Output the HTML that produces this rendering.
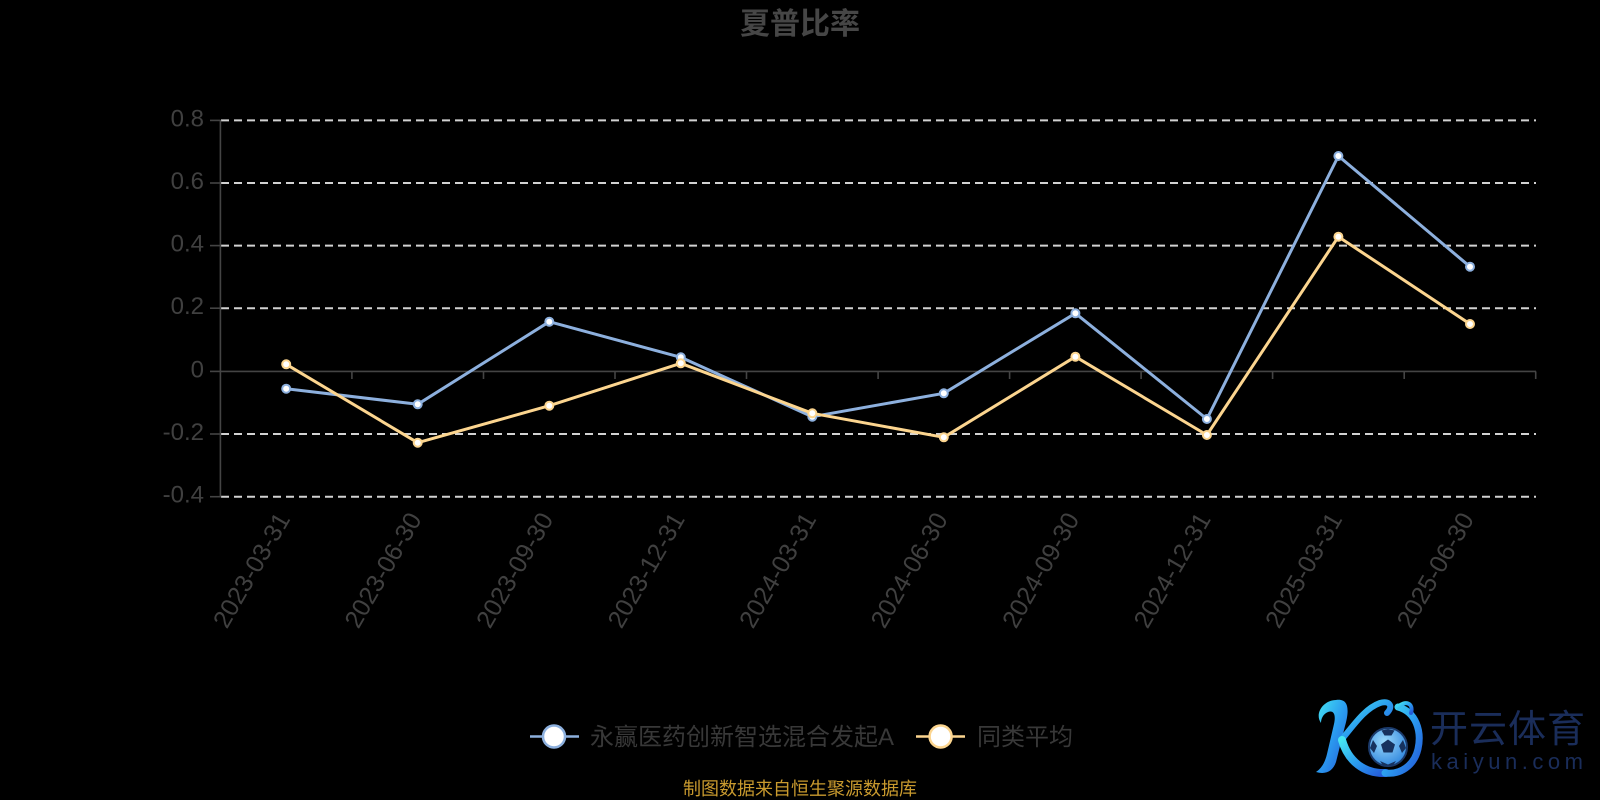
<!DOCTYPE html>
<html><head><meta charset="utf-8"><style>
html,body{margin:0;padding:0;background:#000;width:1600px;height:800px;overflow:hidden}
svg{display:block}
</style></head><body>
<svg width="1600" height="800" viewBox="0 0 1600 800" xmlns="http://www.w3.org/2000/svg">
<defs>
<linearGradient id="kg" x1="0" y1="0" x2="1" y2="1">
<stop offset="0" stop-color="#46e6f2"/>
<stop offset="0.5" stop-color="#2b9df0"/>
<stop offset="1" stop-color="#2459d8"/>
</linearGradient>
<radialGradient id="bg" cx="0.4" cy="0.35" r="0.7">
<stop offset="0" stop-color="#9ad8fb"/>
<stop offset="1" stop-color="#2f86dd"/>
</radialGradient>
</defs>
<rect width="1600" height="800" fill="#000"/>

<!-- title -->
<text x="800" y="34" text-anchor="middle" font-family="Liberation Sans, Noto Sans CJK SC, sans-serif" font-weight="bold" font-size="30" fill="#464646">夏普比率</text>

<!-- grid -->
<g stroke="#d2d2d2" stroke-width="2" stroke-dasharray="8,5" fill="none">
<line x1="221" y1="120.4" x2="1536" y2="120.4"/>
<line x1="221" y1="183" x2="1536" y2="183"/>
<line x1="221" y1="245.6" x2="1536" y2="245.6"/>
<line x1="221" y1="308.2" x2="1536" y2="308.2"/>
<line x1="221" y1="434" x2="1536" y2="434"/>
<line x1="221" y1="496.7" x2="1536" y2="496.7"/>
</g>

<!-- axes -->
<g stroke="#444" stroke-width="1.6" fill="none">
<line x1="220.4" y1="120" x2="220.4" y2="497.5"/>
<line x1="220.4" y1="371.4" x2="1536" y2="371.4"/>
<line x1="210" y1="120.4" x2="220.4" y2="120.4"/>
<line x1="210" y1="183" x2="220.4" y2="183"/>
<line x1="210" y1="245.6" x2="220.4" y2="245.6"/>
<line x1="210" y1="308.2" x2="220.4" y2="308.2"/>
<line x1="210" y1="371.4" x2="220.4" y2="371.4"/>
<line x1="210" y1="434" x2="220.4" y2="434"/>
<line x1="210" y1="496.7" x2="220.4" y2="496.7"/>
<line x1="351.9" y1="371.4" x2="351.9" y2="379"/>
<line x1="483.5" y1="371.4" x2="483.5" y2="379"/>
<line x1="615" y1="371.4" x2="615" y2="379"/>
<line x1="746.5" y1="371.4" x2="746.5" y2="379"/>
<line x1="878.1" y1="371.4" x2="878.1" y2="379"/>
<line x1="1009.6" y1="371.4" x2="1009.6" y2="379"/>
<line x1="1141.1" y1="371.4" x2="1141.1" y2="379"/>
<line x1="1272.6" y1="371.4" x2="1272.6" y2="379"/>
<line x1="1404.2" y1="371.4" x2="1404.2" y2="379"/>
<line x1="1535.7" y1="371.4" x2="1535.7" y2="379"/>
</g>

<!-- y labels -->
<g font-family="Liberation Sans, sans-serif" font-size="24" fill="#404040" text-anchor="end">
<text x="204" y="126.4">0.8</text>
<text x="204" y="189">0.6</text>
<text x="204" y="251.6">0.4</text>
<text x="204" y="314.2">0.2</text>
<text x="204" y="377.4">0</text>
<text x="204" y="440">-0.2</text>
<text x="204" y="502.7">-0.4</text>
</g>

<!-- x labels -->
<g font-family="Liberation Sans, sans-serif" font-size="25" fill="#404040" text-anchor="end">
<text transform="translate(290.8,519) rotate(-60)">2023-03-31</text>
<text transform="translate(422.3,519) rotate(-60)">2023-06-30</text>
<text transform="translate(553.9,519) rotate(-60)">2023-09-30</text>
<text transform="translate(685.4,519) rotate(-60)">2023-12-31</text>
<text transform="translate(816.9,519) rotate(-60)">2024-03-31</text>
<text transform="translate(948.4,519) rotate(-60)">2024-06-30</text>
<text transform="translate(1080,519) rotate(-60)">2024-09-30</text>
<text transform="translate(1211.5,519) rotate(-60)">2024-12-31</text>
<text transform="translate(1343,519) rotate(-60)">2025-03-31</text>
<text transform="translate(1474.6,519) rotate(-60)">2025-06-30</text>
</g>

<!-- blue series -->
<polyline fill="none" stroke="#8db0de" stroke-width="3" stroke-linejoin="round"
points="286.2,388.7 417.7,404.3 549.3,321.7 680.8,357.3 812.3,416.7 943.8,393.3 1075.4,313.3 1206.9,419 1338.4,156 1470,266.7"/>
<g fill="#fff" stroke="#8db0de" stroke-width="2">
<circle cx="286.2" cy="388.7" r="4"/><circle cx="417.7" cy="404.3" r="4"/><circle cx="549.3" cy="321.7" r="4"/>
<circle cx="680.8" cy="357.3" r="4"/><circle cx="812.3" cy="416.7" r="4"/><circle cx="943.8" cy="393.3" r="4"/>
<circle cx="1075.4" cy="313.3" r="4"/><circle cx="1206.9" cy="419" r="4"/><circle cx="1338.4" cy="156" r="4"/>
<circle cx="1470" cy="266.7" r="4"/>
</g>

<!-- yellow series -->
<polyline fill="none" stroke="#fcd58f" stroke-width="3" stroke-linejoin="round"
points="286.2,364.3 417.7,442.7 549.3,405.7 680.8,363.3 812.3,413.3 943.8,437.3 1075.4,356.7 1206.9,435 1338.4,236.7 1470,324"/>
<g fill="#fff" stroke="#fcd58f" stroke-width="2">
<circle cx="286.2" cy="364.3" r="4"/><circle cx="417.7" cy="442.7" r="4"/><circle cx="549.3" cy="405.7" r="4"/>
<circle cx="680.8" cy="363.3" r="4"/><circle cx="812.3" cy="413.3" r="4"/><circle cx="943.8" cy="437.3" r="4"/>
<circle cx="1075.4" cy="356.7" r="4"/><circle cx="1206.9" cy="435" r="4"/><circle cx="1338.4" cy="236.7" r="4"/>
<circle cx="1470" cy="324" r="4"/>
</g>

<!-- legend -->
<line x1="530" y1="736.5" x2="579" y2="736.5" stroke="#8db0de" stroke-width="2.5"/>
<circle cx="554" cy="736.5" r="11" fill="#fff" stroke="#8db0de" stroke-width="2.5"/>
<text x="590" y="745" font-family="Liberation Sans, Noto Sans CJK SC, sans-serif" font-size="24" fill="#383838">永赢医药创新智选混合发起A</text>
<line x1="916" y1="736.5" x2="965" y2="736.5" stroke="#fcd58f" stroke-width="2.5"/>
<circle cx="940.6" cy="736.5" r="11" fill="#fff" stroke="#fcd58f" stroke-width="2.5"/>
<text x="977" y="745" font-family="Liberation Sans, Noto Sans CJK SC, sans-serif" font-size="24" fill="#383838">同类平均</text>

<!-- footer -->
<text x="800" y="795" text-anchor="middle" font-family="Liberation Sans, Noto Sans CJK SC, sans-serif" font-size="18" fill="#c99a2e">制图数据来自恒生聚源数据库</text>

<!-- watermark logo -->
<g>
<path d="M1336,700 C1350,698 1349,712 1345,726 L1336,762 C1333,771 1326,775 1316,772 C1322,768 1325,762 1327,754 L1334,724 C1336,715 1334,710 1328,712 C1323,714 1321,719 1321,723 C1314,713 1324,700 1336,700 Z" fill="url(#kg)"/>
<path d="M1343,738 C1356,722 1366,708 1380,703 C1389,700 1394,706 1387,713" fill="none" stroke="url(#kg)" stroke-width="6" stroke-linecap="round"/>
<path d="M1342,740 C1348,761 1364,774 1386,773" fill="none" stroke="url(#kg)" stroke-width="8" stroke-linecap="round"/>
<path d="M1398,707 C1416,712 1422,731 1418,749 C1414,766 1400,775 1385,773" fill="none" stroke="url(#kg)" stroke-width="7" stroke-linecap="round"/>
<path d="M1398,707 C1405,700 1414,703 1411,713" fill="none" stroke="url(#kg)" stroke-width="4" stroke-linecap="round"/>
<circle cx="1388" cy="747" r="19" fill="url(#bg)" stroke="#1b3a6b" stroke-width="2"/>
<polygon points="1388,739.5 1395,744.5 1392.5,752.5 1383.5,752.5 1381,744.5" fill="#17325e"/>
<polygon points="1388,729 1394.5,730.5 1391.5,735.5 1384.5,735.5 1381.5,730.5" fill="#17325e"/>
<polygon points="1403,740 1406,748 1402,753 1399,746" fill="#17325e"/>
<polygon points="1373,740 1370,748 1374,753 1377,746" fill="#17325e"/>
<polygon points="1380,761 1388,764.5 1396,761 1393,765.5 1383,765.5" fill="#17325e"/>
<text x="1430" y="742" font-family="Noto Sans CJK SC, sans-serif" font-size="38" fill="#1a2d5a" textLength="155" lengthAdjust="spacing">开云体育</text>
<text x="1431" y="769" font-family="Liberation Sans, sans-serif" font-size="22" fill="#1a2d5a" textLength="152" lengthAdjust="spacing">kaiyun.com</text>
</g>
</svg>
</body></html>
